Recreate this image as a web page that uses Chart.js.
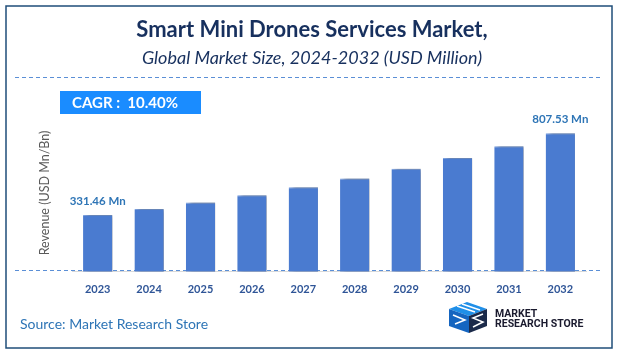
<!DOCTYPE html>
<html>
<head>
<meta charset="utf-8">
<script src="https://cdn.jsdelivr.net/npm/chart.js@4.4.1/dist/chart.umd.min.js"></script>
<style>
  html, body { margin: 0; padding: 0; background: #ffffff; }
  #wrap { width: 619px; height: 354px; position: relative; }
</style>
</head>
<body>
<div id="wrap"><canvas id="bar-chart" width="619" height="354"></canvas></div>
<script>
const years = ["2023", "2024", "2025", "2026", "2027", "2028", "2029", "2030", "2031", "2032"];
const revenue = [331.46, 366, 404, 446, 493, 544, 600, 663, 731, 807.53];
const valueLabels = ["331.46 Mn", "", "", "", "", "", "", "", "", "807.53 Mn"];

const FONT = "Lato, 'Open Sans', sans-serif";

// frame, dashed separators, CAGR badge, source and logo
const decor = {
  id: "decor",
  beforeDraw(chart) {
    const ctx = chart.ctx;
    ctx.save();
    ctx.fillStyle = "#ffffff";
    ctx.fillRect(0, 0, chart.width, chart.height);
    ctx.strokeStyle = "#1f4e79";
    ctx.lineWidth = 1.5;
    ctx.strokeRect(6, 6, 606, 342);

    ctx.strokeStyle = "#5b8fd6";
    ctx.lineWidth = 1;
    ctx.setLineDash([4, 3]);
    ctx.beginPath();
    ctx.moveTo(15, 77.5);
    ctx.lineTo(603, 77.5);
    ctx.moveTo(15, 270.5);
    ctx.lineTo(603, 270.5);
    ctx.stroke();
    ctx.setLineDash([]);

    // CAGR badge
    ctx.fillStyle = "#1a8cff";
    ctx.fillRect(60, 91, 141, 23);
    ctx.fillStyle = "#ffffff";
    ctx.font = "bold 15px " + FONT;
    ctx.textBaseline = "middle";
    ctx.textAlign = "left";
    ctx.fillText("CAGR :  10.40%", 72, 103);

    // y title
    ctx.save();
    ctx.translate(45, 193);
    ctx.rotate(-Math.PI / 2);
    ctx.textAlign = "center";
    ctx.fillStyle = "#595959";
    ctx.font = "12.5px " + FONT;
    ctx.fillText("Revenue (USD Mn/Bn)", 0, 0);
    ctx.restore();

    // source
    ctx.fillStyle = "#2e75b6";
    ctx.font = "14px " + FONT;
    ctx.textAlign = "left";
    ctx.fillText("Source: Market Research Store", 20, 324);

    // logo
    const poly = (pts, color) => {
      ctx.fillStyle = color;
      ctx.beginPath();
      pts.forEach((p, i) => (i ? ctx.lineTo(p[0], p[1]) : ctx.moveTo(p[0], p[1])));
      ctx.closePath();
      ctx.fill();
    };
    poly([[467, 302], [487, 309], [469, 316], [449, 309]], "#1f8fe8");
    poly([[449, 309], [469, 316], [469, 333], [449, 326]], "#1565c0");
    poly([[469, 316], [487, 309], [487, 326], [469, 333]], "#1b2a4a");
    ctx.strokeStyle = "#ffffff";
    ctx.lineWidth = 1.5;
    ctx.beginPath();
    ctx.moveTo(457, 306); ctx.lineTo(475, 312);
    ctx.moveTo(462, 304); ctx.lineTo(480, 310);
    ctx.moveTo(453, 315); ctx.lineTo(465, 320); ctx.lineTo(455, 324);
    ctx.moveTo(483, 314); ctx.lineTo(473, 318); ctx.lineTo(483, 322); ctx.lineTo(473, 327);
    ctx.stroke();

    ctx.fillStyle = "#1a1a2e";
    ctx.font = "bold 10.5px 'Liberation Sans Narrow', 'Roboto', sans-serif";
    ctx.fillText("MARKET", 495, 314);
    ctx.fillText("RESEARCH STORE", 495, 324);
    ctx.restore();
  },
};

// soft shadow to the right of bars and value labels above first/last bar
const barExtras = {
  id: "barExtras",
  beforeDatasetsDraw(chart) {
    const ctx = chart.ctx;
    ctx.save();
    ctx.shadowColor = "rgba(0,0,0,0.45)";
    ctx.shadowBlur = 4;
    ctx.shadowOffsetX = 4;
    ctx.shadowOffsetY = 0;
  },
  afterDatasetsDraw(chart) {
    const ctx = chart.ctx;
    ctx.restore();
    ctx.save();
    ctx.fillStyle = "#2e75b6";
    ctx.font = "bold 11.5px " + FONT;
    ctx.textAlign = "center";
    ctx.textBaseline = "middle";
    chart.getDatasetMeta(0).data.forEach((bar, i) => {
      if (valueLabels[i]) ctx.fillText(valueLabels[i], bar.x, bar.y - 14);
    });
    ctx.restore();
  },
};

new Chart(document.getElementById("bar-chart"), {
  type: "bar",
  data: {
    labels: years,
    datasets: [
      {
        data: revenue,
        backgroundColor: "#4a7bd0",
        borderColor: "#7ea3e2",
        borderWidth: { top: 1, left: 0, right: 0, bottom: 0 },
        borderSkipped: "bottom",
        barPercentage: 0.57,
        categoryPercentage: 1,
      },
    ],
  },
  options: {
    responsive: false,
    animation: false,
    devicePixelRatio: 1,
    layout: {
      padding: { left: 38, right: 33, top: 0, bottom: 55 },
    },
    scales: {
      x: {
        grid: { display: false },
        border: { display: true, color: "#d9d9d9", width: 1 },
        ticks: {
          color: "#2f5597",
          font: { family: FONT, size: 11, weight: "bold" },
          padding: 3,
        },
      },
      y: {
        min: 0,
        max: 1000,
        grid: { display: false },
        border: { display: false },
        ticks: { display: false },
        afterFit(scale) {
          scale.width = 34;
        },
      },
    },
    plugins: {
      legend: { display: false },
      tooltip: { enabled: false },
      title: {
        display: true,
        text: "Smart Mini Drones Services Market,",
        color: "#17305e",
        font: { family: FONT, size: 22, weight: "bold" },
        padding: { top: 16.8, bottom: 2 },
      },
      subtitle: {
        display: true,
        text: "Global Market Size, 2024-2032 (USD Million)",
        color: "#17305e",
        font: { family: FONT, size: 18, style: "italic" },
        padding: { top: 2, bottom: 31.3 },
      },
    },
  },
  plugins: [decor, barExtras],
});
</script>
</body>
</html>
